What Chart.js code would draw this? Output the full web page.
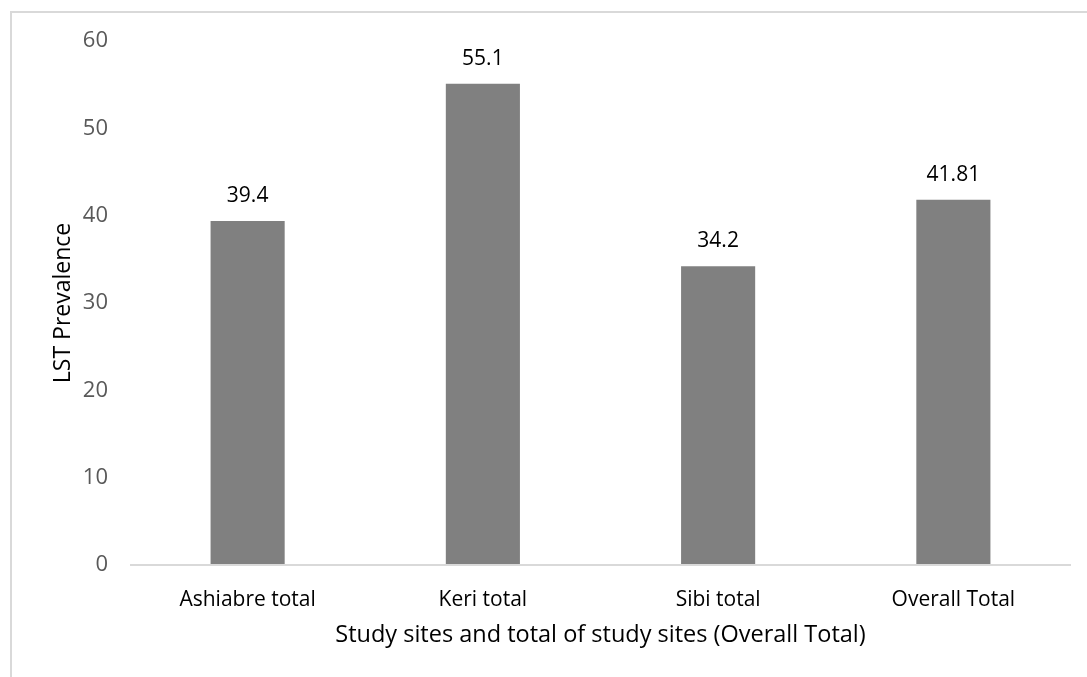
<!DOCTYPE html>
<html>
<head>
<meta charset="utf-8">
<script src="https://cdn.jsdelivr.net/npm/chart.js@4/dist/chart.umd.min.js"></script>
<style>
  html, body { margin: 0; padding: 0; background: #fff; }
  #wrap { position: relative; width: 1087px; height: 677px; }
</style>
</head>
<body>
<div id="wrap"><canvas id="c" width="1087" height="677"></canvas></div>
<script>
// Study sites on the x axis
const categories = ['Ashiabre total', 'Keri total', 'Sibi total', 'Overall Total'];
// LST prevalence per site
const prevalence = [39.4, 55.1, 34.2, 41.81];
// Value axis range
const yMin = 0;
const yMax = 60;
const yStep = 10;

const FONT = "'Open Sans', 'DejaVu Sans', sans-serif";

// Light frame around the chart
const framePlugin = {
  id: 'frame',
  beforeDraw(chart) {
    const ctx = chart.ctx;
    ctx.save();
    ctx.fillStyle = '#ffffff';
    ctx.fillRect(0, 0, chart.width, chart.height);
    ctx.strokeStyle = '#d9d9d9';
    ctx.lineWidth = 2;
    ctx.strokeRect(11, 12, chart.width + 20, chart.height + 20);
    ctx.restore();
  }
};

// Value labels above each bar
const valueLabels = {
  id: 'valueLabels',
  afterDatasetsDraw(chart) {
    const ctx = chart.ctx;
    const meta = chart.getDatasetMeta(0);
    ctx.save();
    ctx.font = '21px ' + FONT;
    ctx.fillStyle = '#000000';
    ctx.textAlign = 'center';
    ctx.textBaseline = 'middle';
    meta.data.forEach((bar, i) => {
      ctx.fillText(String(prevalence[i]), bar.x, bar.y - 25);
    });
    ctx.restore();
  }
};

new Chart(document.getElementById('c'), {
  type: 'bar',
  data: {
    labels: categories,
    datasets: [{
      data: prevalence,
      backgroundColor: '#808080',
      borderWidth: 0,
      categoryPercentage: 1,
      barPercentage: 0.315
    }]
  },
  options: {
    responsive: false,
    animation: false,
    layout: { padding: { top: 41, right: 16, bottom: 0, left: 0 } },
    plugins: {
      legend: { display: false },
      tooltip: { enabled: false }
    },
    scales: {
      x: {
        grid: { display: false, drawTicks: false },
        border: { display: false },
        ticks: {
          color: '#000000',
          font: { family: FONT, size: 21 },
          padding: 22,
          maxRotation: 0
        },
        title: {
          display: true,
          text: 'Study sites and total of study sites (Overall Total)',
          color: '#000000',
          font: { family: FONT, size: 23.5 },
          padding: { top: 0, bottom: 28 }
        },
        afterFit(scale) { scale.height = 112; }
      },
      y: {
        min: yMin,
        max: yMax,
        grid: {
          drawTicks: false,
          lineWidth: 2,
          color: (ctx) => (ctx.tick && ctx.tick.value === 0 ? '#d9d9d9' : 'rgba(0,0,0,0)')
        },
        border: { display: false },
        ticks: {
          stepSize: yStep,
          color: '#595959',
          font: { family: FONT, size: 22 },
          padding: 22
        },
        title: {
          display: true,
          text: 'LST Prevalence',
          color: '#000000',
          font: { family: FONT, size: 23 },
          padding: { top: 50, bottom: 0 }
        },
        afterFit(scale) { scale.width = 130; }
      }
    }
  },
  plugins: [framePlugin, valueLabels]
});
</script>
</body>
</html>
